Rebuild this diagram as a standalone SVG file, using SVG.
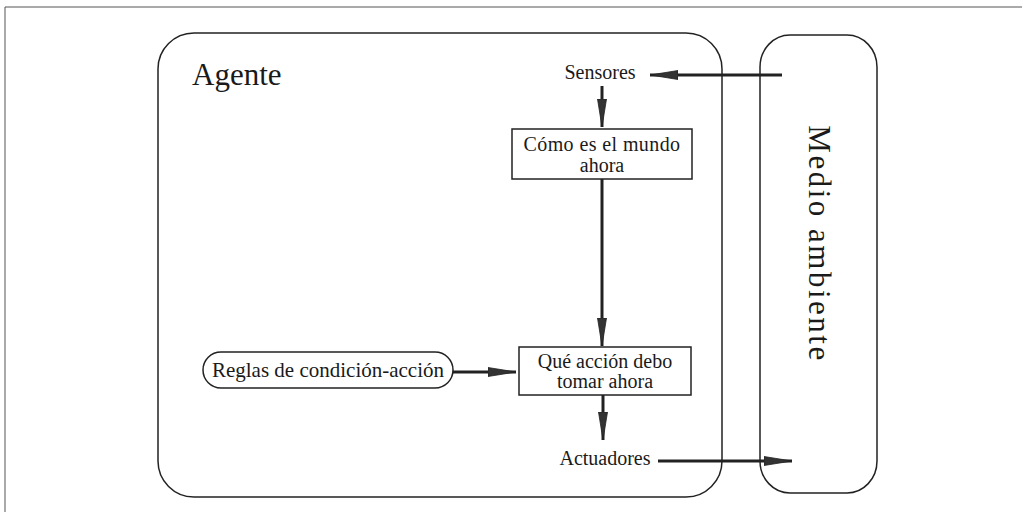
<svg xmlns="http://www.w3.org/2000/svg" width="1022" height="512" viewBox="0 0 1022 512">
<style>
  text { font-family: "Liberation Serif", "Times New Roman", serif; fill: #1a1a1a; }
  .frame { fill: none; stroke: #555; stroke-width: 1; }
  .outline { fill: none; stroke: #222; stroke-width: 1.5; }
  .box { fill: #fff; stroke: #222; stroke-width: 1.5; }
  .conn { fill: none; stroke: #222; stroke-width: 3; }
  .lbl { font-size: 20px; text-anchor: middle; }
  .lbl2 { font-size: 21px; text-anchor: middle; }
</style>
<defs>
  <marker id="ah" markerUnits="userSpaceOnUse" markerWidth="30" markerHeight="12" refX="28" refY="6" orient="auto">
    <path d="M0,1.5 L28,6 L0,10.5 Z" fill="#333" stroke="#222" stroke-width="0.8"/>
  </marker>
</defs>
<rect width="1022" height="512" fill="#fff"/>
<path class="frame" d="M5,512 L5,7 L1022,7"/>

<g id="agente">
  <rect class="outline" x="158" y="33" width="564" height="464" rx="36" ry="36"/>
  <text x="192" y="85" style="font-size:31px">Agente</text>
</g>

<g id="medio-ambiente">
  <rect class="outline" x="760" y="35" width="117" height="458" rx="30" ry="32"/>
  <text x="0" y="0" transform="translate(809,244) rotate(90)" style="font-size:31px;letter-spacing:2.5px" text-anchor="middle">Medio ambiente</text>
</g>

<g id="sensores">
  <text class="lbl" x="600" y="79">Sensores</text>
</g>

<g id="como-es">
  <rect class="box" x="512" y="129" width="180" height="50"/>
  <text class="lbl" x="602" y="151" style="letter-spacing:0.4px">Cómo es el mundo</text>
  <text class="lbl" x="602" y="172">ahora</text>
</g>

<g id="reglas">
  <rect class="box" x="203" y="352" width="250" height="36" rx="18" ry="18"/>
  <text class="lbl2" x="328" y="377">Reglas de condición-acción</text>
</g>

<g id="que-accion">
  <rect class="box" x="519" y="347" width="172" height="48"/>
  <text class="lbl" x="605" y="368">Qué acción debo</text>
  <text class="lbl" x="605" y="388">tomar ahora</text>
</g>

<g id="actuadores">
  <text class="lbl" x="605" y="465">Actuadores</text>
</g>

<g id="connectors">
  <line class="conn" x1="782" y1="75" x2="650" y2="75" marker-end="url(#ah)"/>
  <line class="conn" x1="602" y1="86" x2="602" y2="127" marker-end="url(#ah)"/>
  <line class="conn" x1="602" y1="179" x2="602" y2="346" marker-end="url(#ah)"/>
  <line class="conn" x1="453" y1="372" x2="516" y2="372" marker-end="url(#ah)"/>
  <line class="conn" x1="603" y1="395" x2="603" y2="440" marker-end="url(#ah)"/>
  <line class="conn" x1="658" y1="461" x2="792" y2="461" marker-end="url(#ah)"/>
</g>
</svg>
